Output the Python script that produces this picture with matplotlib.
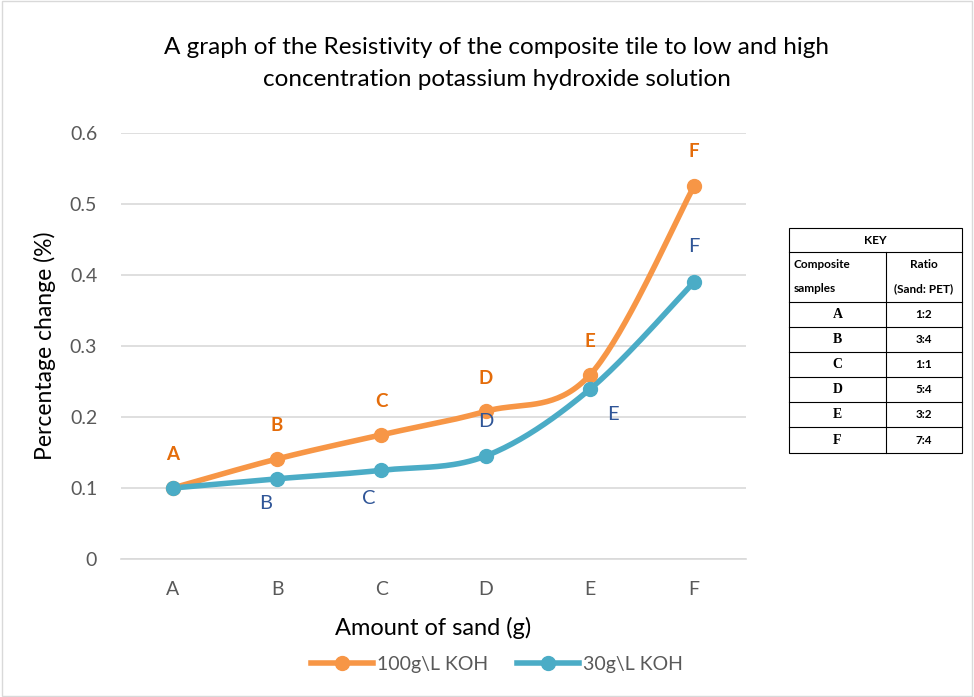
import matplotlib
import numpy as np

matplotlib.use("Agg")
import matplotlib.pyplot as plt
from matplotlib.lines import Line2D
from matplotlib.patches import Rectangle

plt.rcParams["font.family"] = ["Lato", "DejaVu Sans"]

samples = ["A", "B", "C", "D", "E", "F"]
koh_100 = [0.100, 0.141, 0.175, 0.208, 0.259, 0.525]
koh_30 = [0.100, 0.113, 0.125, 0.145, 0.239, 0.390]
y_ticks = [0, 0.1, 0.2, 0.3, 0.4, 0.5, 0.6]
y_tick_labels = ["0", "0.1", "0.2", "0.3", "0.4", "0.5", "0.6"]

key_ratios = ["1:2", "3:4", "1:1", "5:4", "3:2", "7:4"]

# label offsets in points (dx, dy); None = no label
orange_offsets = [(0, 24), (0, 24), (0, 24), (0, 24), (0, 24), (0, 25)]
blue_offsets = [None, (-8, -18), (-9, -20), (0, 25), (17, -18), (0, 26)]

ORANGE = "#F79646"
ORANGE_TXT = "#E46C0A"
BLUE = "#4BACC6"
BLUE_TXT = "#2F5597"


def smooth(x, y, n=40):
    # Bezier segments with Catmull-Rom style control points (like Excel smoothed lines)
    x = np.asarray(x, float); y = np.asarray(y, float)
    px = np.concatenate([[x[0]], x, [x[-1]]])
    py = np.concatenate([[y[0]], y, [y[-1]]])
    xs, ys = [], []
    t = np.linspace(0, 1, n)
    for i in range(1, len(px) - 2):
        p0 = np.array([px[i], py[i]]); p3 = np.array([px[i + 1], py[i + 1]])
        p1 = p0 + (np.array([px[i + 1], py[i + 1]]) - np.array([px[i - 1], py[i - 1]])) / 6
        p2 = p3 - (np.array([px[i + 2], py[i + 2]]) - np.array([px[i], py[i]])) / 6
        b = ((1 - t) ** 3)[:, None] * p0 + (3 * (1 - t) ** 2 * t)[:, None] * p1 \
            + (3 * (1 - t) * t ** 2)[:, None] * p2 + (t ** 3)[:, None] * p3
        xs.append(b[:, 0]); ys.append(b[:, 1])
    return np.concatenate(xs), np.concatenate(ys)


fig = plt.figure(figsize=(9.74, 6.97), dpi=100)
fig.patches.append(Rectangle((0.002, 0.002), 0.996, 0.996, transform=fig.transFigure,
                             fill=False, ec="#D9D9D9", lw=1))
ax = fig.add_axes([0.124, 0.198, 0.642, 0.611])

x = np.arange(len(samples))
for vals, c in [(koh_100, ORANGE), (koh_30, BLUE)]:
    sx, sy = smooth(x, vals)
    ax.plot(sx, sy, color=c, lw=4, solid_capstyle="round", zorder=3)
    ax.plot(x, vals, "o", color=c, ms=10, zorder=4)

for xi, v, lab, off in zip(x, koh_100, samples, orange_offsets):
    ax.annotate(lab, (xi, v), xytext=off, textcoords="offset points", ha="center", va="center",
                color=ORANGE_TXT, fontsize=13.5, fontweight="bold", zorder=5)
for xi, v, lab, off in zip(x, koh_30, samples, blue_offsets):
    if off is None:
        continue
    ax.annotate(lab, (xi, v), xytext=off, textcoords="offset points", ha="center", va="center",
                color=BLUE_TXT, fontsize=14.5, zorder=5)

ax.set_xlim(-0.5, len(samples) - 0.5)
ax.set_ylim(0, 0.6)
ax.set_yticks(y_ticks)
ax.set_yticklabels(y_tick_labels)
ax.set_xticks(x)
ax.set_xticklabels(samples)
ax.grid(axis="y", color="#D9D9D9", lw=1.2)
ax.set_axisbelow(True)
for s in ["top", "right", "left"]:
    ax.spines[s].set_visible(False)
ax.spines["bottom"].set_color("#D9D9D9")
ax.spines["bottom"].set_linewidth(1.2)
ax.tick_params(length=0, colors="#595959", labelsize=14)
ax.tick_params(axis="x", pad=16)
ax.tick_params(axis="y", pad=17)
ax.set_xlabel("Amount of sand (g)", fontsize=17, color="black", va="center")
ax.set_ylabel("Percentage change (%)", fontsize=16.5, color="black", va="center")
ax.xaxis.set_label_coords(0.5 * (530 - 121) / 625 + 0.5 * (330 - 121) / 625 + 0.005, -0.162)
ax.yaxis.set_label_coords(-0.1216, 0.5)

fig.text(0.51, 0.909, "A graph of the Resistivity of the composite tile to low and high\n"
         "concentration potassium hydroxide solution",
         ha="center", va="center", fontsize=17.5, color="black", linespacing=1.6)

handles = [Line2D([], [], color=ORANGE, lw=4, marker="o", ms=10),
           Line2D([], [], color=BLUE, lw=4, marker="o", ms=10)]
fig.legend(handles, ["100g\\L KOH", "30g\\L KOH"], loc="center", bbox_to_anchor=(0.51, 0.047),
           ncol=2, frameon=False, fontsize=14, handlelength=3.2, columnspacing=1.5,
           handletextpad=0.2, labelcolor="#595959")

# key table drawn on a figure-level axes in pixel coordinates
kx = fig.add_axes([0, 0, 1, 1], facecolor="none")
kx.set_xlim(0, 974); kx.set_ylim(697, 0); kx.axis("off")
left, mid, right = 789, 886, 962
rows = [228, 252, 302, 327, 352, 377, 402, 427, 453]
kx.add_patch(Rectangle((left, rows[0]), right - left, rows[-1] - rows[0], fill=False, ec="black", lw=0.8))
for r in rows[1:-1]:
    kx.plot([left, right], [r, r], color="black", lw=0.8)
kx.plot([mid, mid], [rows[1], rows[-1]], color="black", lw=0.8)
kx.text((left + right) / 2, (rows[0] + rows[1]) / 2, "KEY", ha="center", va="center",
        fontsize=8.5, fontweight="bold")
kx.text(left + 5, rows[1] + 13, "Composite", ha="left", va="center", fontsize=8.5, fontweight="bold")
kx.text(left + 5, rows[1] + 37, "samples", ha="left", va="center", fontsize=8.5, fontweight="bold")
kx.text((mid + right) / 2, rows[1] + 13, "Ratio", ha="center", va="center", fontsize=8.5, fontweight="bold")
kx.text((mid + right) / 2, rows[1] + 37, "(Sand: PET)", ha="center", va="center", fontsize=8.5,
        fontweight="bold")
for i, (s, r) in enumerate(zip(samples, key_ratios)):
    yc = (rows[i + 2] + rows[i + 3]) / 2
    kx.text((left + mid) / 2, yc, s, ha="center", va="center", fontsize=10, fontweight="bold",
            family="Liberation Serif")
    kx.text((mid + right) / 2, yc, r, ha="center", va="center", fontsize=8.5, fontweight="bold")

fig.savefig("out.png", dpi=100, facecolor="white")
